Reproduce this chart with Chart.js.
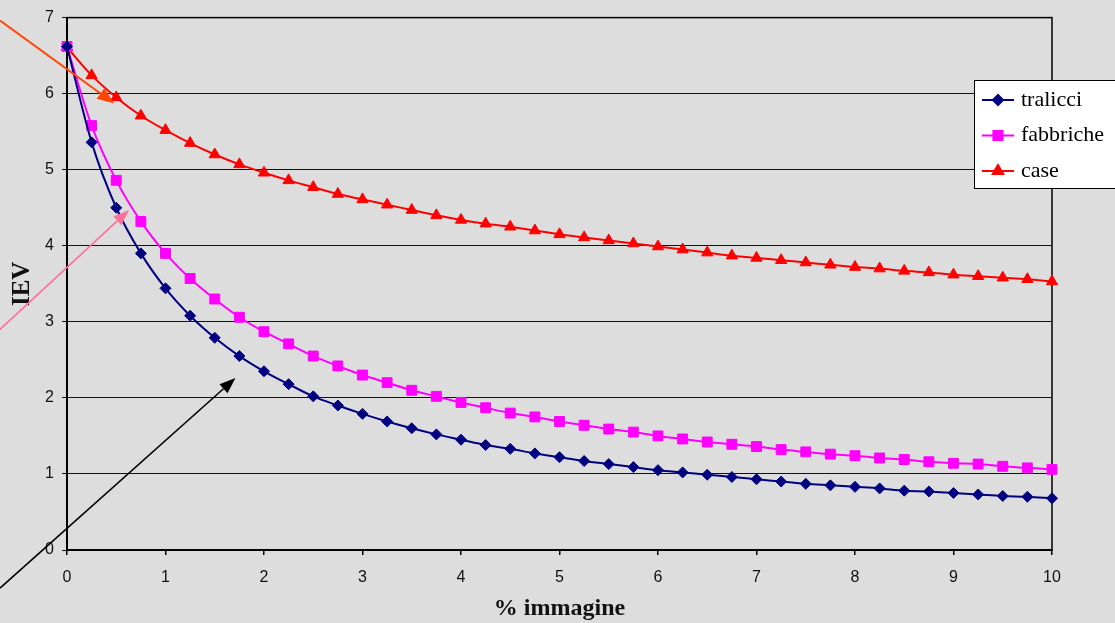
<!DOCTYPE html>
<html>
<head>
<meta charset="utf-8">
<script src="https://cdn.jsdelivr.net/npm/chart.js@4.4.1/dist/chart.umd.min.js"></script>
<style>
  html, body { margin: 0; padding: 0; background: #DDDDDD; }
  #wrap { width: 1115px; height: 623px; position: relative; }
</style>
</head>
<body>
<div id="wrap"><canvas id="iev"></canvas></div>
<script>
// % immagine (asse x)
const xVals = [0, 0.25, 0.5, 0.75, 1, 1.25, 1.5, 1.75, 2, 2.25, 2.5, 2.75, 3, 3.25, 3.5, 3.75,
  4, 4.25, 4.5, 4.75, 5, 5.25, 5.5, 5.75, 6, 6.25, 6.5, 6.75, 7, 7.25, 7.5, 7.75,
  8, 8.25, 8.5, 8.75, 9, 9.25, 9.5, 9.75, 10];

// IEV per tipologia
const tralicci = [6.62, 5.36, 4.50, 3.90, 3.44, 3.08, 2.79, 2.55, 2.35, 2.18, 2.02, 1.90, 1.79, 1.69,
  1.60, 1.52, 1.45, 1.38, 1.33, 1.27, 1.22, 1.17, 1.13, 1.09, 1.05, 1.02, 0.99, 0.96, 0.93, 0.90,
  0.87, 0.85, 0.83, 0.81, 0.78, 0.77, 0.75, 0.73, 0.71, 0.70, 0.68];
const fabbriche = [6.62, 5.58, 4.86, 4.32, 3.90, 3.57, 3.30, 3.06, 2.87, 2.71, 2.55, 2.42, 2.30, 2.20,
  2.10, 2.02, 1.94, 1.87, 1.80, 1.75, 1.69, 1.64, 1.59, 1.55, 1.50, 1.46, 1.42, 1.39, 1.36, 1.32,
  1.29, 1.26, 1.24, 1.21, 1.19, 1.16, 1.14, 1.13, 1.10, 1.08, 1.06];
const caseVals = [6.61, 6.24, 5.95, 5.71, 5.52, 5.35, 5.20, 5.07, 4.96, 4.86, 4.77, 4.68, 4.61, 4.54,
  4.47, 4.40, 4.34, 4.29, 4.25, 4.20, 4.15, 4.11, 4.07, 4.03, 3.99, 3.95, 3.91, 3.87, 3.84, 3.81,
  3.78, 3.75, 3.72, 3.70, 3.67, 3.65, 3.62, 3.60, 3.58, 3.56, 3.53];

const yTicks = [0, 1, 2, 3, 4, 5, 6, 7];
const xTicks = [0, 1, 2, 3, 4, 5, 6, 7, 8, 9, 10];

// frecce di annotazione, in unità dei dati: [x0, y0, x1(punta), y1(punta)]
const arrowRed = [-0.68, 6.96, 0.48, 5.87];
const arrowPink = [-0.68, 2.90, 0.63, 4.47];
const arrowBlack = [-0.68, -0.50, 1.71, 2.26];

const toXY = (ys) => ys.map((y, i) => ({ x: xVals[i], y }));

function series(label, ys, color, style, radius){
  return {
    label, data: toXY(ys), showLine: true,
    borderColor: color, backgroundColor: color, borderWidth: 2,
    pointStyle: style, pointRadius: radius, pointHoverRadius: radius,
    pointBorderWidth: 1, pointBorderColor: color, pointBackgroundColor: color,
    cubicInterpolationMode: "monotone", clip: 12
  };
}

// cornice del grafico (lati destro e superiore)
const frame = {
  id: "frame",
  beforeDatasetsDraw(chart){
    const { ctx, chartArea: a } = chart;
    ctx.save();
    ctx.strokeStyle = "#000"; ctx.lineWidth = 1.5;
    ctx.strokeRect(a.left, a.top, a.right - a.left, a.bottom - a.top);
    ctx.restore();
  }
};

function drawArrow(ctx, chart, a, color, width, headLen, headW){
  const xs = chart.scales.x, ys = chart.scales.y;
  const x0 = xs.getPixelForValue(a[0]), y0 = ys.getPixelForValue(a[1]);
  const x1 = xs.getPixelForValue(a[2]), y1 = ys.getPixelForValue(a[3]);
  const ang = Math.atan2(y1 - y0, x1 - x0);
  const bx = x1 - Math.cos(ang) * headLen, by = y1 - Math.sin(ang) * headLen;
  ctx.strokeStyle = color; ctx.fillStyle = color; ctx.lineWidth = width;
  ctx.beginPath(); ctx.moveTo(x0, y0); ctx.lineTo(bx, by); ctx.stroke();
  ctx.beginPath();
  ctx.moveTo(x1, y1);
  ctx.lineTo(bx + Math.sin(ang) * headW / 2, by - Math.cos(ang) * headW / 2);
  ctx.lineTo(bx - Math.sin(ang) * headW / 2, by + Math.cos(ang) * headW / 2);
  ctx.closePath(); ctx.fill();
}

const arrows = {
  id: "arrows",
  afterDatasetsDraw(chart){
    const ctx = chart.ctx;
    ctx.save();
    drawArrow(ctx, chart, arrowRed, "#FF4500", 2, 17, 13);
    drawArrow(ctx, chart, arrowPink, "#FF6F9C", 1.6, 16, 12);
    drawArrow(ctx, chart, arrowBlack, "#000000", 1.6, 16, 12);
    ctx.restore();
  }
};

// legenda stile Excel, sovrapposta all'area del grafico (tagliata a destra)
const boxLegend = {
  id: "boxLegend",
  afterDraw(chart){
    const ctx = chart.ctx;
    const left = 974, top = 80, w = 190, h = 108;
    ctx.save();
    ctx.fillStyle = "#FFFFFF"; ctx.strokeStyle = "#000"; ctx.lineWidth = 1;
    ctx.fillRect(left, top, w, h);
    ctx.strokeRect(left + 0.5, top + 0.5, w, h);
    ctx.font = '22px "Liberation Serif", serif';
    ctx.textBaseline = "middle";
    chart.data.datasets.forEach((ds, i) => {
      const cy = 100 + i * 35.5;
      ctx.strokeStyle = ds.borderColor; ctx.lineWidth = 2;
      ctx.beginPath(); ctx.moveTo(982, cy); ctx.lineTo(1014, cy); ctx.stroke();
      Chart.helpers.drawPoint(ctx, { pointStyle: ds.pointStyle, radius: ds.pointRadius - 0.5, borderWidth: 1 }, 998, cy);
      ctx.fillStyle = ds.borderColor; ctx.fill();
      ctx.fillStyle = "#000";
      ctx.fillText(ds.label, 1021, cy);
    });
    ctx.restore();
  }
};

new Chart(document.getElementById("iev"), {
  type: "scatter",
  data: {
    datasets: [
      series("tralicci", tralicci, "#000080", "rectRot", 5.5),
      series("fabbriche", fabbriche, "#FF00FF", "rect", 7),
      series("case", caseVals, "#FF0000", "triangle", 6.5)
    ]
  },
  options: {
    responsive: true, maintainAspectRatio: false, animation: false,
    layout: { padding: { left: 0, top: 17, right: 63, bottom: 0 } },
    plugins: { legend: { display: false }, tooltip: { enabled: false } },
    scales: {
      x: {
        type: "linear", min: 0, max: 10,
        afterFit: (s) => { s.height = 73; },
        afterBuildTicks: (s) => { s.ticks = xTicks.map(v => ({ value: v })); },
        ticks: { color: "#111", font: { family: '"Liberation Sans", Arial, sans-serif', size: 16 }, padding: 13 },
        grid: { drawOnChartArea: false, drawTicks: true, tickLength: 5, color: "#000", lineWidth: 1.5 },
        border: { display: true, color: "#000", width: 2 },
        title: {
          display: true, text: "% immagine", color: "#111",
          font: { family: '"Liberation Serif", serif', size: 24, weight: "bold", lineHeight: 1.2 },
          padding: { top: 0, bottom: 0 }
        }
      },
      y: {
        min: 0, max: 7,
        afterFit: (s) => { s.width = 67; },
        afterBuildTicks: (s) => { s.ticks = yTicks.map(v => ({ value: v })); },
        ticks: { color: "#111", font: { family: '"Liberation Sans", Arial, sans-serif', size: 16 }, padding: 8 },
        grid: { color: "#111", lineWidth: 1, drawTicks: true, tickLength: 5 },
        border: { display: true, color: "#000", width: 2 },
        title: {
          display: true, text: "IEV", color: "#111",
          font: { family: '"Liberation Serif", serif', size: 25, weight: "bold", lineHeight: 1.2 },
          padding: { top: 8, bottom: 0 }
        }
      }
    }
  },
  plugins: [frame, arrows, boxLegend]
});
</script>
</body>
</html>
